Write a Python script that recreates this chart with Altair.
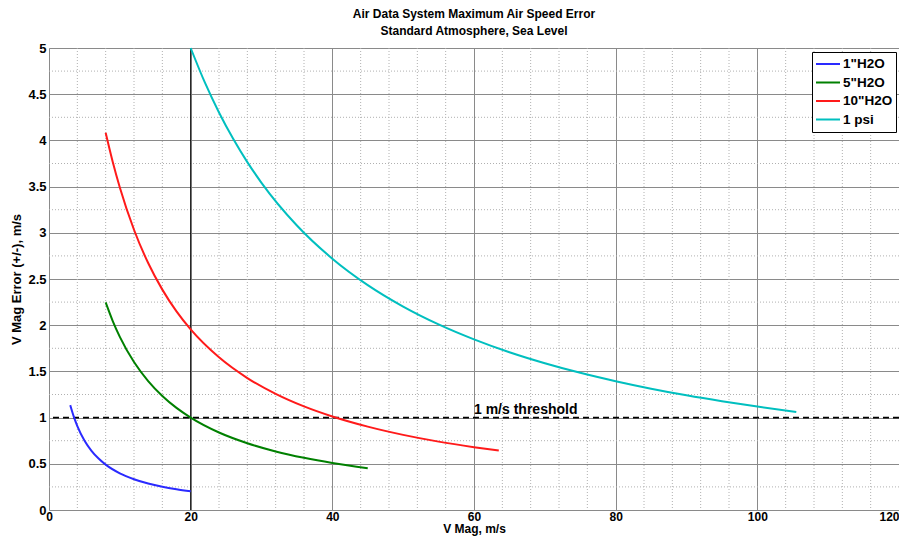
import altair as alt
import pandas as pd

# ---- data ----
series_names = ['1"H2O', '5"H2O', '10"H2O', '1 psi']
series_colors = ['#2a2aff', '#008000', '#ff1a1a', '#00bfbf']

blue_x = [3, 3.5, 4, 5, 6, 7, 8, 10, 12, 14, 16, 18, 20]
blue_y = [1.135, 1.011, 0.909, 0.753, 0.641, 0.557, 0.491, 0.397, 0.333, 0.286, 0.251, 0.224, 0.202]

green_x = [8, 9, 10, 12, 14, 16, 18, 20, 24, 28, 32, 36, 40, 45]
green_y = [2.247, 2.045, 1.874, 1.601, 1.395, 1.234, 1.105, 1.000, 0.839, 0.723, 0.634, 0.565, 0.509, 0.453]

red_x = [8, 9, 10, 12, 14, 16, 18, 20, 24, 28, 32, 36, 40, 45, 50, 55, 60, 63.5]
red_y = [4.083, 3.767, 3.491, 3.033, 2.673, 2.385, 2.149, 1.954, 1.652, 1.428, 1.257, 1.121,
         1.012, 0.902, 0.813, 0.740, 0.680, 0.643]

cyan_x = [20, 22, 24, 26, 28, 30, 35, 40, 45, 50, 55, 60, 65, 70, 75, 80, 85, 90, 95, 100, 105.5]
cyan_y = [5.000, 4.627, 4.302, 4.017, 3.765, 3.541, 3.079, 2.720, 2.434, 2.202, 2.009, 1.847,
          1.708, 1.589, 1.485, 1.394, 1.313, 1.241, 1.177, 1.119, 1.061]

x_major = [0, 20, 40, 60, 80, 100, 120]
y_major = [0, 0.5, 1, 1.5, 2, 2.5, 3, 3.5, 4, 4.5, 5]
x_minor = [4, 8, 12, 16, 24, 28, 32, 36, 44, 48, 52, 56, 64, 68, 72, 76, 84, 88, 92, 96, 104, 108, 112, 116]
y_minor = [0.25, 0.75, 1.25, 1.75, 2.25, 2.75, 3.25, 3.75, 4.25, 4.75]

threshold_value = 1.0
threshold_label = "1 m/s threshold"
threshold_label_x = 60
reference_x = 20

# ---- tables ----
rows = []
for name, xs, ys in zip(series_names, [blue_x, green_x, red_x, cyan_x], [blue_y, green_y, red_y, cyan_y]):
    for xv, yv in zip(xs, ys):
        rows.append({"series": name, "v": xv, "err": yv})
df = pd.DataFrame(rows)

FONT = "Liberation Sans"
x_scale = alt.Scale(domain=[0, 120], nice=False, zero=False)
y_scale = alt.Scale(domain=[0, 5], nice=False, zero=False)

x_axis = alt.Axis(values=x_major, title="V Mag, m/s", grid=True, gridColor="#8a8a8a", gridWidth=1,
                  ticks=False, domain=False, labelFlush=False,
                  labelAlign={"expr": "datum.value == 120 ? 'right' : 'center'"},
                  labelFontSize=12, labelFontWeight="bold",
                  labelPadding=1, titleFontSize=12, titleFontWeight="bold", titlePadding=1.5,
                  labelColor="black", titleColor="black", labelFont=FONT, titleFont=FONT)
y_axis = alt.Axis(values=y_major, format="~g", title="V Mag Error (+/-), m/s", grid=True,
                  gridColor="#8a8a8a", gridWidth=1, ticks=False, domain=False, labelFlush=False,
                  labelFontSize=13, labelFontWeight="bold", labelPadding=3,
                  titleFontSize=13, titleFontWeight="bold", titlePadding=4,
                  labelColor="black", titleColor="black", labelFont=FONT, titleFont=FONT)


def X():
    return alt.X("v:Q", scale=x_scale, axis=x_axis)


def Y():
    return alt.Y("err:Q", scale=y_scale, axis=y_axis)


minor_v = alt.Chart(pd.DataFrame({"v": x_minor})).mark_rule(
    color="#b0b0b0", strokeDash=[1, 2], strokeWidth=1).encode(x=X())
minor_h = alt.Chart(pd.DataFrame({"err": y_minor})).mark_rule(
    color="#b0b0b0", strokeDash=[1, 2], strokeWidth=1).encode(y=Y())

vline = alt.Chart(pd.DataFrame({"v": [reference_x]})).mark_rule(
    color="black", strokeWidth=1).encode(x=X())
hline = alt.Chart(pd.DataFrame({"err": [threshold_value]})).mark_rule(
    color="black", strokeWidth=1.6, strokeDash=[6, 4]).encode(y=Y())

label = alt.Chart(pd.DataFrame({"v": [threshold_label_x], "err": [threshold_value], "t": [threshold_label]})).mark_text(
    align="left", baseline="bottom", dy=-1, fontSize=14, fontWeight="bold", font=FONT, color="black"
).encode(x=X(), y=Y(), text="t:N")

lines = alt.Chart(df).mark_line(strokeWidth=2, interpolate="monotone").encode(
    x=X(), y=Y(),
    color=alt.Color("series:N", scale=alt.Scale(domain=series_names, range=series_colors),
                    legend=alt.Legend(title=None, orient="none", legendX=763, legendY=4,
                                      fillColor="white", strokeColor="black", padding=3,
                                      symbolType="stroke", symbolSize=576, symbolStrokeWidth=2,
                                      labelFontSize=13.5, labelFontWeight="bold", labelFont=FONT,
                                      labelColor="black", rowPadding=0.5, clipHeight=18,
                                      labelOffset=2)),
    detail="series:N",
    order="v:Q",
)

chart = alt.layer(minor_v, minor_h, vline, hline, lines, label).properties(
    width=850, height=462,
    title=alt.TitleParams(["Air Data System Maximum Air Speed Error", "Standard Atmosphere, Sea Level"],
                          fontSize=12, fontWeight="bold", font=FONT, anchor="middle", frame="group",
                          lineHeight=17, offset=4, color="black"),
    autosize=alt.AutoSizeParams(type="none"),
    padding={"left": 41, "top": 40, "right": 0, "bottom": 27},
).configure_view(stroke="#444444", strokeWidth=1).configure(background="white")

chart.save("out.html", embed_options={"renderer": "svg", "actions": False})
